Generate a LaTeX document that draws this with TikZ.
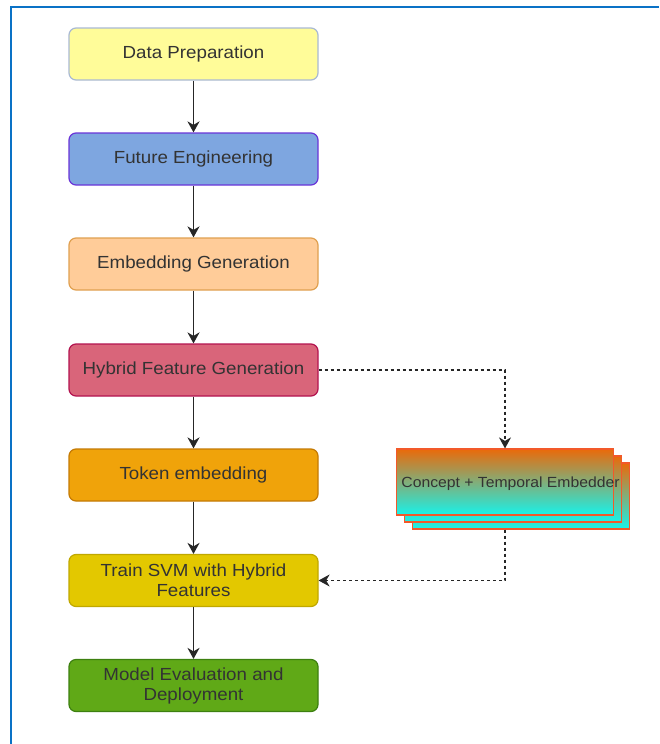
\documentclass[tikz,border=0pt]{standalone}
\usepackage{fontspec}
\setmainfont{Liberation Sans}
\newfontfamily\widefont[FakeStretch=1.07]{Liberation Sans}
\usetikzlibrary{arrows.meta,positioning}
\definecolor{frameblue}{HTML}{0A72C6}
\definecolor{c1f}{HTML}{FFFC99}\definecolor{c1d}{HTML}{A9B9D4}
\definecolor{c2f}{HTML}{7EA6E0}\definecolor{c2d}{HTML}{6A35D8}
\definecolor{c3f}{HTML}{FFCC99}\definecolor{c3d}{HTML}{E0A050}
\definecolor{c4f}{HTML}{D9657A}\definecolor{c4d}{HTML}{B3134F}
\definecolor{c5f}{HTML}{F0A30A}\definecolor{c5d}{HTML}{C47A05}
\definecolor{c6f}{HTML}{E3C800}\definecolor{c6d}{HTML}{C0A800}
\definecolor{c7f}{HTML}{60A917}\definecolor{c7d}{HTML}{3D8010}
\definecolor{gtop}{HTML}{EA6A0A}\definecolor{gbot}{HTML}{18F2EA}
\definecolor{gdraw}{HTML}{F2592A}
\tikzset{
  stepbox/.style={draw, line width=1.2pt, rounded corners=7pt, minimum width=249pt,
    minimum height=52pt, align=center, font=\widefont\fontsize{17.5}{20}\selectfont, text=black!80, inner sep=2pt},
  stackbox/.style={draw=gdraw, line width=1.2pt, top color=gtop, bottom color=gbot,
    minimum width=217pt, minimum height=66pt, inner sep=0pt},
  flow/.style={-{Stealth[length=11pt,width=12pt,inset=3.5pt]}, line width=1.8pt, black!85},
  dflow/.style={-{Stealth[length=11pt,width=12pt,inset=3.5pt]}, line width=1.2pt, black!85, dash pattern=on 3pt off 3pt},
}
\begin{document}
\begin{tikzpicture}[x=1pt,y=-1pt]
\useasboundingbox (0,0) rectangle (659,744);
\fill[white] (0,0) rectangle (659,744);
\draw[frameblue, line width=2pt] (10.5,744) -- (10.5,6.5) -- (659,6.5);

\node[stepbox, fill=c1f, draw=c1d] (dp) at (193.5,54) {Data Preparation};
\node[stepbox, fill=c2f, draw=c2d] (fe) at (193.5,159) {Future Engineering};
\node[stepbox, fill=c3f, draw=c3d] (eg) at (193.5,264) {Embedding Generation};
\node[stepbox, fill=c4f, draw=c4d] (hf) at (193.5,370) {Hybrid Feature Generation};
\node[stepbox, fill=c5f, draw=c5d] (te) at (193.5,475) {Token embedding};
\node[stepbox, fill=c6f, draw=c6d] (ts) at (193.5,580.5) {Train SVM with Hybrid\\Features};
\node[stepbox, fill=c7f, draw=c7d] (me) at (193.5,685.5) {Model Evaluation and\\Deployment};

\node[stackbox] (s3) at (521,496) {};
\node[stackbox] (s2) at (513,489) {};
\node[stackbox] (s1) at (505,482) {};
\node[font=\widefont\fontsize{14.7}{18}\selectfont, text=black!80] (st) at (510.5,483.5) {Concept + Temporal Embedder};

\draw[flow] (dp) -- (fe);
\draw[flow] (fe) -- (eg);
\draw[flow] (eg) -- (hf);
\draw[flow] (hf) -- (te);
\draw[flow] (te) -- (ts);
\draw[flow] (ts) -- (me);

\draw[dflow] (hf.east) -| (s1.north);
\draw[dflow] (s1.south |- s3.south) |- (ts.east);
\end{tikzpicture}
\end{document}
